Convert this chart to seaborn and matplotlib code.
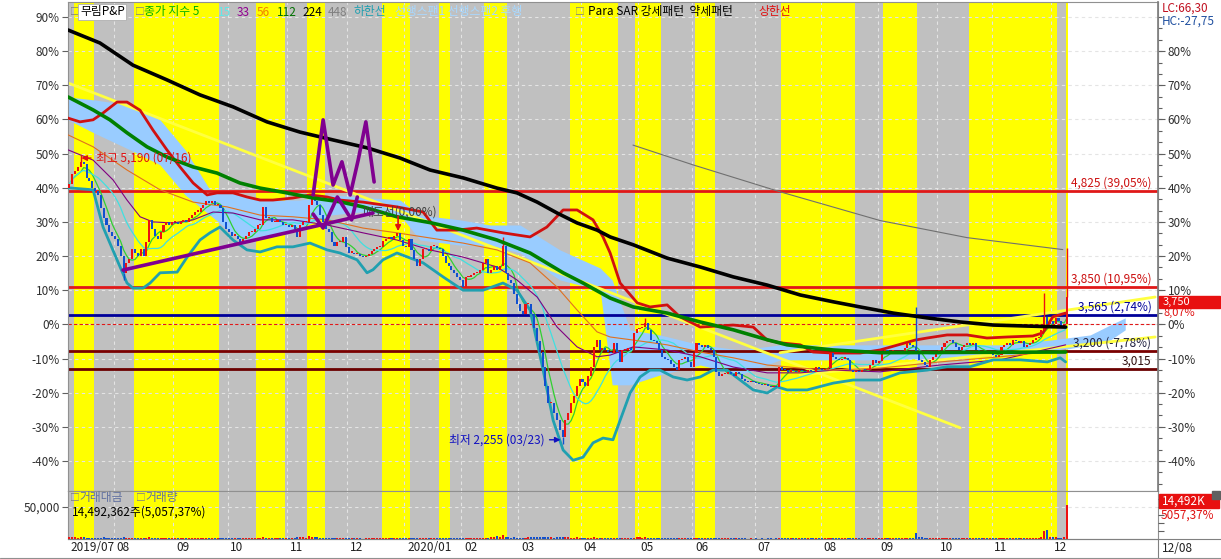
import numpy as np
import pandas as pd
import matplotlib
matplotlib.use("Agg")
import matplotlib.pyplot as plt
import matplotlib.transforms as mtransforms
from matplotlib.patches import Rectangle
import seaborn as sns

sns.set_theme(style="white")
plt.rcParams['font.family'] = ['Noto Sans CJK KR', 'DejaVu Sans']
plt.rcParams['axes.unicode_minus'] = False

# ---------------- data ----------------
BASE_PRICE = 3470  # price at 0 %

close_pct = [
    41, 44, 45, 46, 47.5, 47, 43, 42, 40, 39,
    38, 34, 31, 29, 27, 26, 25, 23, 20, 15,
    18, 19, 22, 21, 20, 22, 20, 24, 30.5, 28,
    26, 25, 27, 29, 30, 29, 30, 30, 29.5, 30,
    30.5, 30, 31, 32, 33, 33, 34, 35, 36, 35.5,
    36, 35, 35, 34, 30, 28, 27, 26, 26, 25,
    24, 25, 26, 27, 27, 28, 29, 29, 34.5, 31,
    31, 30, 30, 30.5, 30, 29, 29, 28.5, 29, 28,
    25.6, 29, 30, 30, 35, 37, 36, 35, 32, 30,
    28, 27, 24, 23, 24, 24, 25.6, 22.6, 21, 21,
    20.5, 20.5, 20, 19.7, 20, 20.5, 21.5, 22, 22.6, 22.6,
    24.5, 25, 25.5, 25, 26, 26.8, 24.7, 23, 22.6, 25,
    21.8, 19, 17, 19, 22, 22, 21.5, 23, 23, 22.5,
    22, 20, 18, 17, 16, 15, 14, 13, 11, 13.9,
    14, 14.5, 15, 15, 16, 18, 19, 15, 16, 17,
    16, 17, 23, 15, 13, 12, 9, 6, 4, 3,
    6, 6, 3, -1, -5, -8, -12.5, -18, -23, -23,
    -26, -28, -31, -33, -28, -26, -23, -21, -18, -16,
    -17, -18, -15, -12.5, -6.5, -4.5, -7.5, -7, -7.5, -8,
    -8.4, -5.5, -8, -11, -7.5, -7.5, -7, -7.5, -2.6, -1.5,
    -1, -0.8, 0.4, -1.6, -4.5, -5, -5.5, -7.5, -9.5, -10,
    -10.4, -11.5, -12.5, -13.3, -10.4, -10, -9.5, -11, -12.5, -8.5,
    -5.5, -6, -6.6, -6, -7, -7.5, -9.5, -14, -15, -14.5,
    -14.5, -14, -14.5, -15, -14, -14.5, -16, -16.5, -17, -16.5,
    -17, -17.3, -17.5, -17.8, -17.5, -18, -18.3, -18, -18.3, -12.5,
    -13.3, -13.5, -14, -13.5, -13.8, -14, -13.5, -13.8, -14, -13.5,
    -13.8, -14, -12.5, -13, -13.5, -13, -12.8, -8.4, -9.5, -10,
    -10.4, -10, -9.8, -10.4, -13.3, -14, -13.8, -14, -13.3, -13.5,
    -13.3, -12, -10.4, -11.3, -10.8, -8, -7.5, -8.4, -8, -7.8,
    -8.2, -8.4, -8, -7, -5.5, -6, -6.5, -8, -10.4, -11,
    -12, -12.5, -10.4, -9.5, -8.4, -7.5, -6.5, -5.5, -5, -4.5,
    -5.5, -6.5, -7.5, -6.5, -6, -5.5, -6, -5.5, -7.5, -8,
    -8.4, -8, -8.4, -8.4, -9, -9.5, -9, -6.5, -6, -5.5,
    -6, -4.5, -5, -5.5, -5, -6.5, -6, -5.5, -4.5, -4,
    -3.6, -1.6, 2.2, 0, 1, 0, 2, 1, -1, 0, 8.07,
]
first_open_pct = 40
wick_high = {4: 49.6, 152: 25.6, 202: 2.0, 297: 5.0, 342: 9.2, 350: 22.4}
wick_low = {19: 13.0, 173: -35.0}

trade_value = [  # 거래대금, million KRW
    3000, 2500, 2800, 2200, 3500, 2600, 2000, 1800, 1500, 1600, 1700, 2000, 2400, 1800, 1500, 1300, 1200, 1400, 1800, 2600,
    1500, 1200, 1400, 1100, 1000, 1300, 1000, 1200, 3200, 1800, 1400, 1100, 1000, 1200, 900, 1000, 800, 900, 1000, 800,
    900, 800, 1000, 1100, 1200, 1000, 1300, 1500, 1400, 1100, 1000, 900, 1000, 900, 1500, 1300, 1100, 1000, 900, 1000,
    1000, 900, 800, 900, 1000, 900, 1000, 1200, 2500, 1500, 1200, 1000, 900, 800, 900, 1000, 1100, 1000, 900, 1200,
    2800, 3500, 2500, 2000, 4500, 3800, 3000, 2600, 2000, 1800, 1500, 1400, 1600, 1200, 1100, 1000, 1300, 1100, 1000, 900,
    800, 900, 800, 700, 800, 900, 800, 900, 1000, 900, 1100, 1200, 1000, 900, 1000, 1300, 1000, 900, 900, 1100,
    1400, 1500, 1300, 1000, 1200, 1000, 900, 1000, 900, 800, 900, 1000, 1100, 1200, 1000, 1100, 1000, 1200, 1400, 1100,
    1000, 900, 1000, 1100, 1300, 1500, 2000, 1400, 2500, 3200, 4500, 2800, 6000, 3000, 2400, 2000, 2500, 2200, 1800, 2000,
    2200, 2500, 2800, 3200, 3000, 3400, 3000, 2800, 3000, 2500, 2200, 2600, 2400, 3000, 2800, 2600, 2200, 2000, 2400, 1800,
    1700, 1500, 1600, 1800, 2500, 2200, 1600, 1400, 1300, 1200, 1100, 1500, 1200, 1300, 1100, 1000, 1100, 1000, 2000, 2400,
    2600, 2300, 3000, 2200, 1800, 1500, 1300, 1200, 1100, 1000, 1100, 1200, 1000, 900, 1300, 1100, 1000, 900, 1000, 1400,
    1800, 1500, 1300, 1100, 1000, 1200, 1300, 1400, 1100, 1000, 900, 800, 900, 800, 900, 800, 900, 800, 700, 800,
    700, 800, 700, 800, 700, 900, 800, 700, 900, 2200, 1500, 1200, 1100, 1000, 900, 1000, 900, 800, 900, 800,
    900, 800, 1100, 1000, 900, 1000, 1100, 2000, 1600, 1400, 1200, 1100, 1000, 1200, 1300, 1100, 1000, 900, 1000, 900,
    1000, 1100, 1400, 1200, 1100, 1500, 1300, 1200, 1100, 1000, 1100, 1000, 1100, 1200, 1500, 1300, 1200, 9400, 3500, 2500,
    2000, 1800, 1600, 1500, 1400, 1300, 1500, 1400, 1300, 1200, 1100, 1200, 1100, 1000, 1100, 1000, 1200, 1100, 1000, 900,
    1000, 900, 1000, 1100, 1000, 900, 1000, 1300, 1200, 1100, 1300, 1500, 1400, 1200, 1100, 1000, 1200, 1100, 1300, 1500,
    1800, 3500, 13000, 14000, 3000, 2500, 2800, 2200, 2000, 2400, 53600,
]

month_labels = ["2019/07", "08", "09", "10", "11", "12", "2020/01", "02", "03", "04",
                "05", "06", "07", "08", "09", "10", "11", "12"]
month_start = [0, 16, 37, 56, 77, 98, 118, 138, 158, 180, 200, 219, 241, 264, 284, 305, 324, 345]

# background pattern bands (강세/약세 periods), alternating gray / yellow
band_edges = [0, 2, 9, 23, 53, 66, 76, 84, 90, 110, 120, 130, 134, 146, 154, 176, 193,
              199, 208, 220, 227, 250, 276, 286, 298, 316, 347, 350, 351]

# moving averages / bands traced (day index, %)
ma224_x = [-0.5, 10.7, 22.3, 34.2, 45.8, 57.4, 69.3, 80.9, 92.5, 104.4, 116.0, 126.5, 138.1, 150.0,
           157.0, 164.1, 171.1, 178.1, 185.1, 189.7, 197.8, 209.7, 221.3, 232.9, 244.8, 256.4,
           268.0, 277.4, 289.0, 300.9, 312.5, 324.1, 336.0, 349.5]
ma224_y = [86.2, 82.4, 75.9, 71.6, 67.2, 63.7, 59.3, 56.3, 54.0, 51.7, 48.7, 45.2, 42.9, 39.9,
           38.5, 35.8, 32.6, 29.7, 27.6, 25.6, 23.3, 19.4, 16.8, 13.9, 11.5, 8.6,
           6.6, 5.1, 3.3, 1.9, 0.7, -0.2, -0.5, -0.8]
ma112_x = [-0.5, 8.3, 14.2, 20.2, 27.2, 34.2, 43.4, 51.8, 59.8, 66.9, 76.3, 85.5, 94.9, 103.0,
           114.9, 126.5, 138.1, 150.0, 161.6, 173.2, 180.2, 189.7, 197.8, 209.7, 221.3, 232.9,
           244.8, 251.8, 260.9, 268.0, 284.4, 349.5]
ma112_y = [66.6, 62.8, 59.9, 56.1, 52.0, 49.0, 46.1, 44.3, 41.4, 39.9, 38.5, 37.0, 35.9, 34.4,
           31.5, 29.8, 27.6, 24.7, 20.9, 15.1, 12.1, 7.7, 5.1, 3.3, 0.7, -1.6,
           -4.5, -6.0, -6.9, -7.5, -8.3, -8.1]
ma448_x = [197.7, 218.8, 249.4, 284.4, 314.9, 348.5]
ma448_y = [52.5, 46.7, 38.8, 30.4, 25.4, 21.9]
ma33_x = [-0.5, 8.3, 15.3, 20.2, 24.8, 29.3, 36.3, 43.4, 50.4, 57.4, 66.9, 78.4, 90.4, 103.0, 114.9,
          126.5, 138.1, 150.0, 157.0, 164.1, 171.1, 178.1, 185.1, 189.7, 197.8, 209.7, 221.3, 232.9,
          244.8, 256.4, 268.0, 284.4, 305.5, 326.5, 349.5]
ma33_y = [51.1, 48.1, 42.3, 36.4, 31.5, 30.0, 29.7, 30.6, 32.9, 32.6, 30.6, 30.6, 29.1, 26.8, 24.7,
          21.8, 19.7, 16.8, 13.0, 8.0, -0.8, -6.6, -9.5, -9.0, -6.6, -7.5, -9.5, -12.5,
          -14.2, -14.2, -13.4, -13.9, -11.9, -10.4, -6.0]
ma56_x = [-0.5, 8.3, 20.2, 31.8, 43.4, 55.3, 66.9, 78.4, 90.4, 103.0, 114.9, 126.5, 138.1, 150.0,
          161.6, 171.1, 178.1, 185.1, 189.7, 197.8, 209.7, 221.3, 232.9, 244.8, 256.4, 268.0,
          284.4, 305.5, 326.5, 349.5]
ma56_y = [55.5, 52.0, 45.2, 39.4, 35.8, 34.4, 32.0, 31.5, 30.6, 28.2, 26.8, 25.3, 23.8, 21.8,
          18.0, 10.9, 4.2, -2.2, -3.7, -4.6, -6.0, -8.1, -9.8, -11.9, -12.8, -13.4,
          -12.8, -11.0, -9.5, -7.5]
upper_x = [-0.5, 3.7, 8.3, 11.8, 16.7, 20.2, 24.8, 29.3, 34.2, 38.8, 43.4, 48.3, 51.8, 57.4, 62.3,
           66.9, 71.4, 78.4, 84.4, 90.4, 94.9, 103.0, 114.9, 124.1, 128.9, 135.9, 142.9, 152.1,
           161.6, 167.5, 173.2, 178.1, 183.7, 187.2, 189.7, 193.2, 199.2, 203.7, 209.7, 214.2,
           221.3, 232.9, 239.9, 244.8, 249.4, 256.4, 260.9, 268.0, 277.4, 284.4, 296.7, 300.9,
           307.9, 314.9, 321.9, 328.9, 338.0, 341.5, 345.0, 349.5]
upper_y = [60.4, 59.3, 59.9, 61.9, 65.1, 65.1, 62.7, 56.9, 51.1, 46.1, 41.4, 37.9, 38.5, 38.5, 37.3,
           36.4, 36.4, 37.0, 37.9, 37.3, 36.4, 35.8, 34.4, 32.9, 27.6, 27.6, 28.2, 26.8,
           25.6, 28.5, 33.5, 33.5, 30.6, 25.6, 20.9, 12.1, 6.3, 5.1, 5.7, 2.2,
           -0.8, -0.2, -0.8, -4.6, -5.4, -6.0, -8.1, -8.4, -8.4, -7.5, -4.6, -4.0,
           -3.1, -3.1, -4.0, -3.7, -3.4, -2.5, 2.2, 3.3]
lower_x = [-0.5, 8.3, 11.8, 16.7, 20.2, 22.3, 25.8, 28.3, 31.8, 37.8, 41.3, 45.8, 49.3, 52.8, 57.4,
           62.3, 66.9, 72.8, 78.4, 84.4, 90.4, 94.9, 100.9, 104.4, 106.5, 110.0, 114.9, 124.1,
           131.1, 138.1, 145.1, 152.1, 157.0, 161.6, 166.2, 169.7, 173.2, 176.7, 180.2, 183.7,
           187.2, 190.7, 193.2, 196.7, 200.2, 203.7, 207.2, 211.8, 216.7, 221.3, 225.8, 230.7,
           235.3, 239.9, 244.8, 248.3, 251.8, 258.8, 268.0, 275.0, 284.4, 291.4, 300.9, 307.9,
           316.0, 324.1, 333.6, 343.1, 347.6, 349.5]
lower_y = [40.0, 39.4, 28.5, 18.9, 12.1, 10.6, 10.6, 12.1, 15.1, 15.3, 19.7, 24.7, 26.8, 28.5, 24.7,
           21.8, 21.2, 22.7, 22.7, 23.8, 21.8, 20.9, 18.9, 15.1, 16.0, 18.9, 20.9, 18.0,
           13.9, 10.0, 10.0, 12.1, 10.0, 4.2, -13.4, -28.1, -36.8, -39.8, -38.9, -34.7,
           -33.3, -33.8, -28.1, -20.1, -15.4, -13.4, -13.4, -15.4, -16.3, -15.4, -13.4, -13.4,
           -16.3, -19.2, -20.1, -18.3, -19.2, -19.2, -17.2, -16.3, -16.3, -14.2, -13.4, -12.4,
           -12.4, -10.4, -10.4, -11.0, -9.8, -11.0]
cloud_x = [-0.5, 9.0, 21.3, 31.8, 40.6, 49.3, 59.9, 70.4, 80.9, 91.4, 101.9, 116, 123, 137, 147.6,
           158.1, 172.1, 186.2, 190.4, 196.7, 207.2, 221.3, 235.3, 249.4, 266.9, 284.4, 305.5,
           326.5, 344.1, 358.1, 365.1, 370.4]
cloud_top = [66.6, 65.7, 64.2, 59.9, 51.1, 39.4, 37.9, 36.4, 36.4, 37.9, 37.3, 36.4, 32.0, 30.6, 29.1,
             29.1, 21.8, 16.5, 13.0, -1.6, -3.1, -6.0, -7.5, -6.0, -6.0, -6.0, -6.0,
             -6.0, -4.6, -3.1, -0.2, 1.9]
cloud_bot = [59.9, 55.9, 51.1, 46.7, 37.9, 32.0, 24.7, 26.2, 28.2, 32.0, 32.9, 32.0, 24.7, 23.2, 23.2,
             20.9, 13.0, 10.0, -17.7, -17.7, -14.8, -11.9, -14.8, -10.4, -10.4, -10.4, -9.8,
             -9.0, -8.1, -6.0, -4.6, -1.6]

# drawn trend lines (day index, %)
yellow_lines = [([-0.5, 312.5], [70.7, -30.3]),
                ([249.3, 380.9], [-8.3, 8.0]),
                ([256.3, 380.9], [-14.8, -3.7])]
purple_lines = [([18.8, 106.5], [15.9, 32.6]),
                ([85.5, 89.0, 92.5, 95.6, 98.5, 101.3, 104.0, 106.9],
                 [37.9, 59.9, 40.8, 47.6, 37.9, 48.1, 59.3, 41.7]),
                ([85.5, 89.0, 94.0, 99.0, 101.0], [32.3, 28.2, 37.3, 30.6, 37.3])]

level_prices = [4825, 3850, 3565, 3200, 3015]
level_colors = ["#e01818", "#e01818", "#000099", "#7a0000", "#6a0000"]
level_text_colors = ["#cc1010", "#cc1010", "#000099", "#202040", "#301010"]
level_show_pct = [True, True, True, True, False]

last_price = 3750
hi_price, hi_date = 5190, "07/16"
lo_price, lo_date = 2255, "03/23"

# ---------------- figure ----------------
W, H = 1221, 559
fig = plt.figure(figsize=(W / 100, H / 100), dpi=100)
fig.patch.set_facecolor("white")
L, R = 68, 1158
ax = fig.add_axes([L / W, 1 - 491 / H, (R - L) / W, (491 - 2) / H])
axv = fig.add_axes([L / W, 1 - 539 / H, (R - L) / W, (539 - 491) / H], sharex=ax)

XMIN, XMAX = -0.5, 381.9
YMIN, YMAX = -48.8, 94.4
ax.set_xlim(XMIN, XMAX)
ax.set_ylim(YMIN, YMAX)
axv.set_ylim(0, 75000)

YEL, GRY = "#ffff00", "#c0c0c0"
for k in range(len(band_edges) - 1):
    col = GRY if k % 2 == 0 else YEL
    for a in (ax, axv):
        a.axvspan(band_edges[k] - 0.5, band_edges[k + 1] - 0.5, color=col, lw=0, zorder=0)

# grid
for v in range(-40, 91, 10):
    ax.axhline(v, color="#e4e4e4", lw=0.8, ls=(0, (3, 3)), zorder=0.5)
for ms in month_start[1:]:
    ax.axvline(ms - 0.5, color="#e4e4e4", lw=0.8, ls=(0, (3, 3)), zorder=0.5)
    axv.axvline(ms - 0.5, color="#e4e4e4", lw=0.8, ls=(0, (3, 3)), zorder=0.5)
axv.axhline(50000, color="#e4e4e4", lw=0.8, ls=(0, (3, 3)), zorder=0.5)

# cloud
ax.fill_between(cloud_x, cloud_bot, cloud_top, color="#99ccff", lw=0, zorder=1)

# horizontal levels
ax.axhline(0, color="#e01818", lw=0.8, ls=(0, (3, 2)), zorder=2)
for p, c, tc, sp in zip(level_prices, level_colors, level_text_colors, level_show_pct):
    pct = (p / BASE_PRICE - 1) * 100
    ax.axhline(pct, color=c, lw=2, zorder=2)
    lab = f"{p:,}"
    if sp:
        lab += " (" + f"{pct:.2f}".replace(".", ",") + "%)"
    ax.text(379.6, pct + 2.4, lab, ha="right", va="center", color=tc, fontsize=8.5, zorder=9)


def line(xs, ys, color, lw, z, a=ax, **kw):
    sns.lineplot(x=list(xs), y=list(ys), ax=a, color=color, linewidth=lw, zorder=z,
                 sort=False, estimator=None, legend=False, **kw)


for xs, ys in yellow_lines:
    line(xs, ys, "#ffff40", 2.0, 2.5)

# thin MAs
cl = pd.Series(close_pct, dtype=float)
idx = np.arange(len(cl))
line(idx, cl.rolling(5, min_periods=1).mean(), "#30d030", 0.9, 3)
line(idx, cl.rolling(15, min_periods=1).mean(), "#40e0e0", 0.9, 3)
line(ma33_x, ma33_y, "#800080", 0.8, 3)
line(ma56_x, ma56_y, "#e07020", 0.8, 3)
line(ma448_x, ma448_y, "#707070", 0.8, 3)
line(lower_x, lower_y, "#20a0b0", 2.0, 3.2)
line(upper_x, upper_y, "#d01010", 2.0, 3.2)

# candles
opens = np.concatenate([[first_open_pct], cl.values[:-1]])
closes = cl.values
up = closes >= opens
col_c = np.where(up, "#ee1010", "#1050d0")
body_lo = np.minimum(opens, closes)
body_h = np.maximum(np.abs(closes - opens), 0.35)
ax.bar(idx, body_h, bottom=body_lo, width=0.72, color=col_c, lw=0, zorder=4)
for i, h in wick_high.items():
    ax.vlines(i, max(opens[i], closes[i]), h, color=col_c[i], lw=1, zorder=4)
for i, lo in wick_low.items():
    ax.vlines(i, lo, min(opens[i], closes[i]), color=col_c[i], lw=1, zorder=4)

# thick MAs
line(ma112_x, ma112_y, "#008000", 2.6, 5)
line(ma224_x, ma224_y, "#000000", 2.6, 5)

for xs, ys in purple_lines:
    line(xs, ys, "#800090", 2.6, 6)

# volume
axv.bar(idx, trade_value, width=0.72, color=col_c, lw=0, zorder=3)

# annotations
ax.annotate(f"최고 {hi_price:,} ({hi_date})", xy=(4.2, 48.7), xytext=(9.2, 48.7),
            color="#e01010", fontsize=8.5, va="center", ha="left", zorder=9,
            arrowprops=dict(arrowstyle="-|>", color="#e01010", lw=1, shrinkA=1, shrinkB=0,
                            mutation_scale=8))
ax.annotate(f"최저 {lo_price:,} ({lo_date})", xy=(172.3, -33.8), xytext=(166.8, -33.8),
            color="#1010c0", fontsize=8.5, va="center", ha="right", zorder=9,
            arrowprops=dict(arrowstyle="-|>", color="#1010c0", lw=1, shrinkA=1, shrinkB=0,
                            mutation_scale=8))
ax.text(102.5, 33.0, "매도선(0,00%)", color="#404040", fontsize=8.5, va="center", ha="left", zorder=5.5)
ax.annotate("", xy=(115.3, 26.5), xytext=(115.3, 32.5),
            arrowprops=dict(arrowstyle="-|>", color="#e01010", lw=1.2, mutation_scale=8), zorder=7)

# axes styling
for a in (ax, axv):
    for s in a.spines.values():
        s.set_color("#909090")
        s.set_linewidth(0.8)
ax.set_yticks(range(-40, 91, 10))
ax.set_yticklabels([f"{v}%" for v in range(-40, 91, 10)], fontsize=8.5, color="#303030")
ax.tick_params(axis="y", length=4, width=0.8, color="#606060", pad=2)
ax.tick_params(axis="x", bottom=False, labelbottom=False)

ax2 = ax.twinx()
ax2.set_ylim(YMIN, YMAX)
ax2.set_yticks(range(-40, 81, 10))
ax2.set_yticklabels([f"{v}%" for v in range(-40, 81, 10)], fontsize=8.5, color="#303030")
ax2.set_yticks(np.arange(-46.67, 92, 10 / 3), minor=True)
ax2.tick_params(axis="y", which="major", length=5, width=0.8, color="#606060", pad=2)
ax2.tick_params(axis="y", which="minor", length=3, width=0.8, color="#606060")
for s in ax2.spines.values():
    s.set_visible(False)
ax2.spines["right"].set_visible(True)
ax2.spines["right"].set_color("#808080")

axv.set_yticks([50000])
axv.set_yticklabels(["50,000"], fontsize=8.5, color="#303030")
axv.tick_params(axis="y", length=4, width=0.8, color="#606060", pad=2)
axv2 = axv.twinx()
axv2.set_ylim(0, 75000)
axv2.set_yticks([12500, 25000, 37500, 50000, 62500])
axv2.set_yticklabels([])
axv2.tick_params(axis="y", length=4, width=0.8, color="#606060")
for s in axv2.spines.values():
    s.set_visible(False)

axv.set_xticks([m - 0.5 for m in month_start])
axv.set_xticklabels(month_labels, fontsize=8.5, color="#202020", ha="left")
axv.tick_params(axis="x", length=14, width=0.8, color="#808080", pad=-12.5, direction="out")
offset = mtransforms.ScaledTranslation(2 / 72, 0, fig.dpi_scale_trans)
for lbl in axv.get_xticklabels():
    lbl.set_transform(lbl.get_transform() + offset)
axv.set_xlim(XMIN, XMAX)

# ---------------- figure-level texts ----------------
def ftext(x, y, s, **kw):
    kw.setdefault("fontsize", 8.5)
    fig.text(x / W, 1 - y / H, s, va="center", **kw)

# legend top
ftext(70, 12, "□", color="#808080", fontsize=7)
ftext(80, 12, "무림P&P", color="#000000",
      bbox=dict(facecolor="white", edgecolor="#b0b0b0", pad=1.2, lw=0.6))
ftext(135, 12, "□", color="#808080", fontsize=7)
legend_items = [(144, "종가 지수 5", "#00b000"), (218, "15", "#60e8e8"), (237, "33", "#900090"),
                (257, "56", "#f08000"), (277, "112", "#007000"), (302, "224", "#000000"),
                (328, "448", "#808080"), (353, "하한선", "#20a0b0"),
                (395, "선행스팬1 선행스팬2 후행", "#a8d8ff")]
for x, s, c in legend_items:
    ftext(x, 12, s, color=c)
ftext(575, 12, "□", color="#808080", fontsize=7)
ftext(588, 12, "Para SAR 강세패턴  약세패턴", color="#000000")
ftext(758, 12, "상한선", color="#e01010")

# right side labels
ftext(1162, 8, "LC:66,30", color="#c01020")
ftext(1162, 21, "HC:-27,75", color="#2050a0")
fig.patches.append(Rectangle((1159 / W, 1 - 308 / H), 61 / W, 12 / H, transform=fig.transFigure,
                             color="#e81010", zorder=10))
ftext(1163, 302, f"{last_price:,}", color="white", zorder=11, fontsize=8)
last_pct = (last_price / BASE_PRICE - 1) * 100
ftext(1163, 313, f"{last_pct:.2f}".replace(".", ",") + "%", color="#e01010", fontsize=8)

fig.patches.append(Rectangle((1159 / W, 1 - 508 / H), 60 / W, 14 / H, transform=fig.transFigure,
                             color="#e81010", zorder=10))
ftext(1162, 501, "14,492K", color="white", zorder=11)
fig.patches.append(Rectangle((1212 / W, 1 - 499 / H), 8 / W, 8 / H, transform=fig.transFigure,
                             color="#606060", zorder=11))
ftext(1161, 515, "5057,37%", color="#e01010")

# volume legend
ftext(70, 498, "□", color="#808080", fontsize=7)
ftext(79, 498, "거래대금", color="#6070a0")
ftext(136, 498, "□", color="#808080", fontsize=7)
ftext(145, 498, "거래량", color="#6070a0")
ftext(72, 512, "14,492,362주(5,057,37%)", color="#000000")

# right date label
ftext(1162, 549, "12/08", color="#202020")
fig.add_artist(plt.Line2D([R / W, R / W], [0, 1 - 539 / H], color="#808080", lw=0.8,
                          transform=fig.transFigure))
fig.add_artist(plt.Line2D([L / W, 1], [1 - 539 / H, 1 - 539 / H], color="#808080", lw=0.8,
                          transform=fig.transFigure))
fig.add_artist(plt.Line2D([0, 1], [1 - 558 / H, 1 - 558 / H], color="#909090", lw=0.8,
                          transform=fig.transFigure))

fig.savefig("out.png", dpi=100, facecolor="white")
